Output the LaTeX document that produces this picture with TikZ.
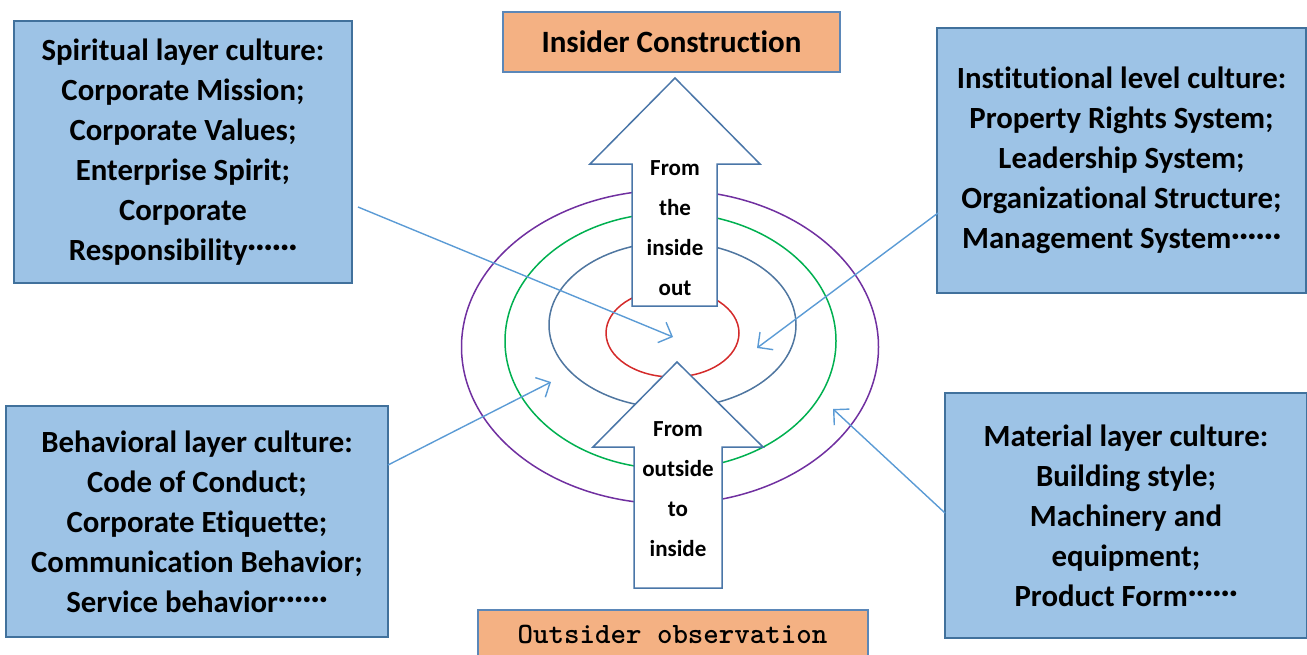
\documentclass[tikz,border=0pt]{standalone}
\usepackage{fontspec}
\setmainfont{Carlito}[Ligatures=NoCommon]
\usetikzlibrary{arrows.meta}
\definecolor{boxfill}{HTML}{9DC3E6}
\definecolor{boxline}{HTML}{41719C}
\definecolor{orfill}{HTML}{F4B183}
\definecolor{orline}{HTML}{5B87B8}
\definecolor{arrline}{HTML}{4A76A8}
\definecolor{conn}{HTML}{5B9BD5}
\definecolor{ecpurple}{HTML}{7030A0}
\definecolor{ecgreen}{HTML}{00B050}
\definecolor{ecblue}{HTML}{4F76A0}
\definecolor{ecred}{HTML}{D42A2A}
\newcommand\sixdots{\raisebox{0.12em}{\textperiodcentered\textperiodcentered\textperiodcentered\textperiodcentered\textperiodcentered\textperiodcentered}}
\tikzset{
  infobox/.style={draw=boxline, fill=boxfill, line width=1.2pt, align=center, inner sep=0pt,
    font=\fontsize{30.8}{40}\selectfont\bfseries},
  titlebox/.style={draw=orline, fill=orfill, line width=1.2pt, inner sep=0pt},
  bigarrow/.style={draw=arrline, fill=white, line width=1.5pt, line join=miter},
  arrtext/.style={align=center, inner sep=0pt, font=\fontsize{23}{40}\selectfont\bfseries},
  connector/.style={draw=conn, line width=1.4pt, -{Straight Barb[length=11pt,width=22pt,line width=1.4pt]}},
  ring/.style={line width=1.5pt}
}
\begin{document}
\begin{tikzpicture}[x=1pt,y=-1pt]
\useasboundingbox (0,0) rectangle (1307,654);
% rings
\draw[ring, ecpurple] (670,347) ellipse [x radius=208.5pt, y radius=157pt];
\draw[ring, ecgreen] (670.5,341) ellipse [x radius=165.5pt, y radius=128pt];
\draw[ring, ecblue] (672.5,325) ellipse [x radius=123.5pt, y radius=83pt];
\draw[ring, ecred] (672.5,333) ellipse [x radius=66.5pt, y radius=44pt];
% big arrows
\draw[bigarrow] (632,306) -- (632,164) -- (590,164) -- (675,78) -- (760,164) -- (717,164) -- (717,306) -- cycle;
\draw[bigarrow] (634,588) -- (634,447) -- (593,447) -- (677,362) -- (763,447) -- (722,447) -- (722,588) -- cycle;
\node[arrtext] (upt) at (675,228) {From\\the\\inside\\out};
\node[arrtext] (lot) at (678,489) {From\\outside\\to\\inside};
% title boxes
\node[titlebox, minimum width=337pt, minimum height=60pt] (ins) at (671.5,42)
  {\fontsize{31}{36}\selectfont\bfseries Insider Construction};
\node[titlebox, minimum width=390pt, minimum height=60pt] (out) at (673,640) {};
\node[inner sep=0pt] (outt) at (672.5,634) {\ttfamily\fontsize{29.5}{30}\selectfont\bfseries Outsider observation};
% info boxes
\node[infobox, minimum width=338pt, minimum height=262pt] (sp) at (183,152)
  {Spiritual layer culture:\\Corporate Mission;\\Corporate Values;\\Enterprise Spirit;\\Corporate\\Responsibility\sixdots};
\node[infobox, minimum width=369pt, minimum height=265pt] (inst) at (1121.5,160.5)
  {Institutional level culture:\\Property Rights System;\\Leadership System;\\Organizational Structure;\\Management System\sixdots};
\node[infobox, minimum width=382pt, minimum height=231pt] (beh) at (197,521.5)
  {Behavioral layer culture:\\Code of Conduct;\\Corporate Etiquette;\\Communication Behavior;\\Service behavior\sixdots};
\node[infobox, minimum width=362pt, minimum height=245pt] (mat) at (1126,515.5)
  {Material layer culture:\\Building style;\\Machinery and\\equipment;\\Product Form\sixdots};
% connectors
\coordinate (s1) at (358,207);
\coordinate (e1) at (673,337);
\coordinate (s2) at (938,213);
\coordinate (e2) at (757,348);
\coordinate (s3) at (388,465);
\coordinate (e3) at (551,382);
\coordinate (s4) at (945,513);
\coordinate (e4) at (833,409);
\draw[connector] (s1) -- (e1);
\draw[connector] (s2) -- (e2);
\draw[connector] (s3) -- (e3);
\draw[connector] (s4) -- (e4);
\end{tikzpicture}
\end{document}
